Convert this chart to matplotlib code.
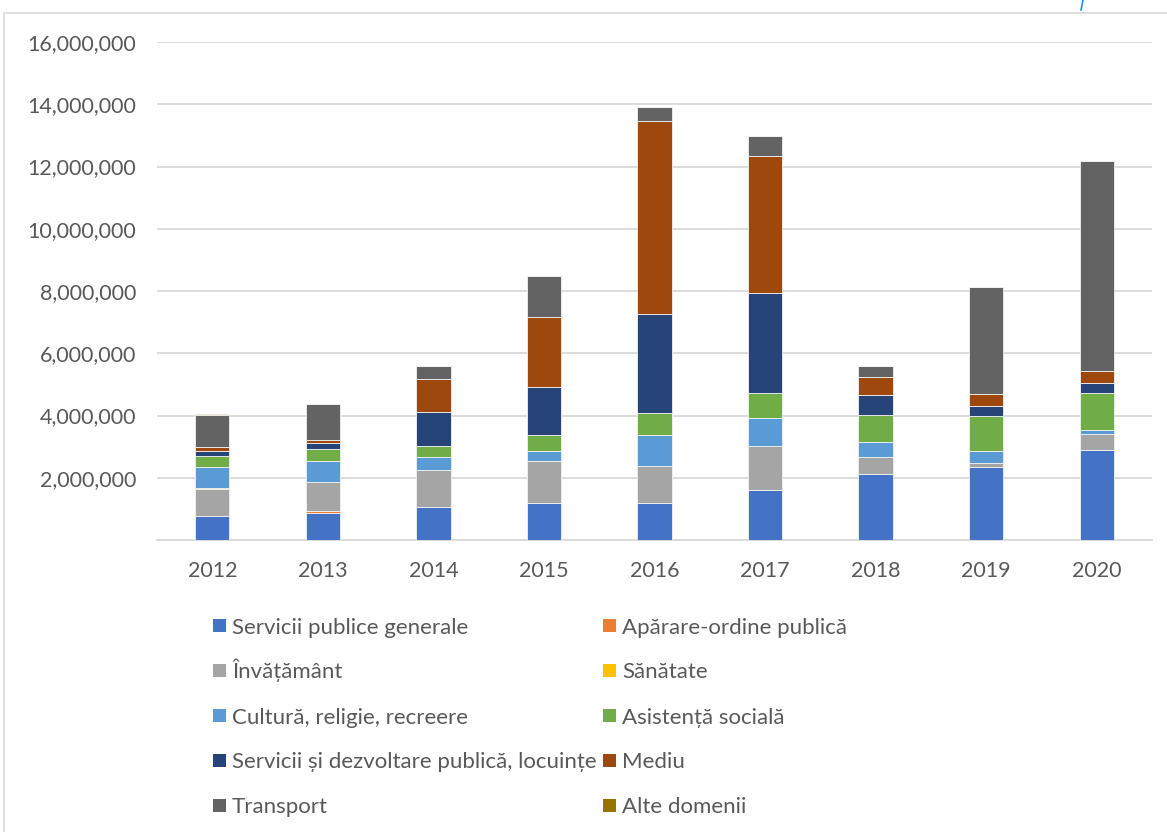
import numpy as np
import matplotlib
matplotlib.use('Agg')
import matplotlib.pyplot as plt
from matplotlib.patches import Rectangle
from matplotlib.lines import Line2D
from matplotlib.ticker import FuncFormatter

plt.rcParams['font.family'] = ['Lato', 'DejaVu Sans']

years = ['2012', '2013', '2014', '2015', '2016', '2017', '2018', '2019', '2020']

categories = [
    'Servicii publice generale',
    'Apărare-ordine publică',
    'Învățământ',
    'Sănătate',
    'Cultură, religie, recreere',
    'Asistență socială',
    'Servicii și dezvoltare publică, locuințe',
    'Mediu',
    'Transport',
    'Alte domenii',
]

servicii_publice = [780000, 880000, 1050000, 1200000, 1200000, 1600000, 2130000, 2330000, 2880000]
aparare = [0, 40000, 0, 0, 0, 0, 0, 0, 0]
invatamant = [870000, 930000, 1200000, 1330000, 1170000, 1410000, 530000, 140000, 530000]
sanatate = [30000, 0, 0, 0, 0, 0, 0, 0, 0]
cultura = [680000, 680000, 420000, 340000, 990000, 900000, 480000, 380000, 120000]
asistenta = [330000, 390000, 360000, 500000, 710000, 800000, 880000, 1120000, 1190000]
dezvoltare = [180000, 190000, 1070000, 1560000, 3180000, 3220000, 650000, 320000, 340000]
mediu = [110000, 110000, 1070000, 2230000, 6200000, 4420000, 580000, 390000, 370000]
transport = [1050000, 1160000, 420000, 1320000, 450000, 620000, 330000, 3460000, 6750000]
alte = [30000, 0, 0, 0, 0, 0, 0, 0, 0]

series = [servicii_publice, aparare, invatamant, sanatate, cultura,
          asistenta, dezvoltare, mediu, transport, alte]

colors = ['#4472C4', '#ED7D31', '#A5A5A5', '#FFC000', '#5B9BD5',
          '#70AD47', '#264478', '#9E480E', '#636363', '#997300']

W, H = 1167, 832
fig = plt.figure(figsize=(W / 100, H / 100), dpi=100)
ax = fig.add_axes([157 / W, 1 - 540 / H, 995 / W, 498 / H])

x = np.arange(len(years))
bottom = np.zeros(len(years))
for vals, col, name in zip(series, colors, categories):
    vals = np.array(vals, dtype=float)
    ax.bar(x, vals, 0.31, bottom=bottom, color=col, label=name,
           edgecolor='#f2f2f2', linewidth=0.6, zorder=3)
    bottom += vals

ax.set_xlim(-0.5, 8.5)
ax.set_ylim(0, 16000000)
ax.set_yticks(np.arange(0, 16000001, 2000000))
ax.yaxis.set_major_formatter(FuncFormatter(lambda v, p: '' if v == 0 else f'{v:,.0f}'))
ax.set_xticks(x)
ax.set_xticklabels(years)
ax.grid(axis='y', color='#d9d9d9', linewidth=1.3, zorder=0)
for s in ['top', 'right', 'left']:
    ax.spines[s].set_visible(False)
ax.spines['bottom'].set_color('#d9d9d9')
ax.spines['bottom'].set_linewidth(1.3)
ax.tick_params(axis='both', length=0, labelsize=15.5, labelcolor='#595959')
ax.tick_params(axis='y', pad=15)
ax.tick_params(axis='x', pad=15)

# legenda desenata manual: 2 coloane, completata pe randuri
col_x = [212.5, 603]
row_y = [625.5, 670.5, 715.5, 760, 805]
for i, (name, col) in enumerate(zip(categories, colors)):
    cx = col_x[i % 2]
    cy = row_y[i // 2]
    fig.add_artist(Rectangle((cx / W, 1 - (cy + 6.5) / H), 13.5 / W, 13 / H,
                             transform=fig.transFigure, facecolor=col,
                             edgecolor='none'))
    fig.text((cx + 19.5) / W, 1 - (cy + 8) / H, name, fontsize=16,
             color='#595959', ha='left', va='baseline')

# chenarul graficului
fig.add_artist(Rectangle((4 / W, -0.05), 1.1, 1 - 13 / H + 0.05,
                         transform=fig.transFigure, fill=False,
                         edgecolor='#d9d9d9', linewidth=1.2))
fig.add_artist(Line2D([1083 / W, 1081 / W], [1.0, 1 - 10 / H],
                      transform=fig.transFigure, color='#1e90ff', linewidth=1.2))

fig.savefig('out.png', dpi=100)
